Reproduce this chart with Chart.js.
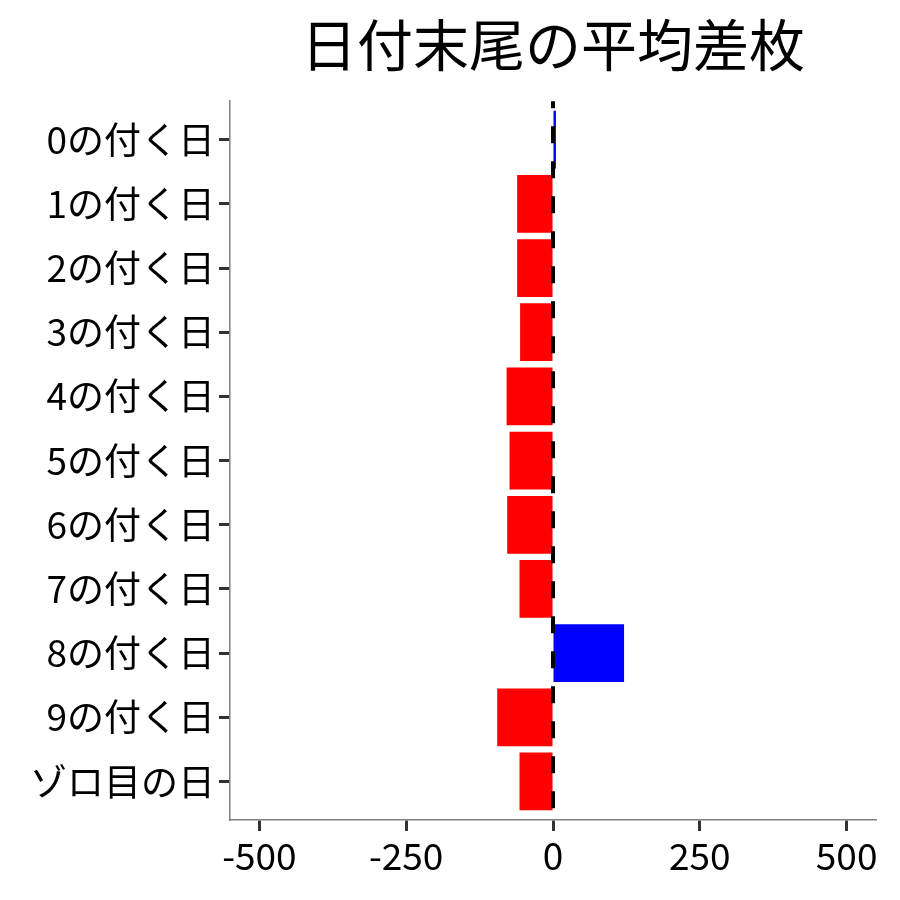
<!DOCTYPE html>
<html>
<head>
<meta charset="utf-8">
<script src="https://cdn.jsdelivr.net/npm/chart.js@4.4.0/dist/chart.umd.min.js"></script>
<style>
  html, body { margin: 0; padding: 0; background: #fff; }
</style>
</head>
<body>
<canvas id="chart" width="900" height="900"></canvas>
<script>
const categories = ["0の付く日", "1の付く日", "2の付く日", "3の付く日", "4の付く日", "5の付く日",
                    "6の付く日", "7の付く日", "8の付く日", "9の付く日", "ゾロ目の日"];
const values = [5, -61, -61, -56, -79, -74, -78, -57, 121, -95, -57];
const xTicks = [-500, -250, 0, 250, 500];

const FONT = "'Noto Sans CJK JP', 'Noto Sans', sans-serif";

// dashed reference line at x = 0, drawn over the bars
const zeroLine = {
    id: "zeroLine",
    afterDatasetsDraw(chart) {
        const { ctx, chartArea, scales } = chart;
        const x = scales.x.getPixelForValue(0);
        ctx.save();
        ctx.strokeStyle = "#000";
        ctx.lineWidth = 4;
        ctx.setLineDash([17, 18]);
        ctx.lineDashOffset = 10;
        ctx.beginPath();
        ctx.moveTo(x, chartArea.top);
        ctx.lineTo(x, chartArea.bottom);
        ctx.stroke();
        ctx.restore();
    }
};

new Chart(document.getElementById("chart"), {
    type: "bar",
    data: {
        datasets: [{
            data: values.map((v, i) => ({ x: v, y: i })),
            backgroundColor: values.map(v => v >= 0 ? "#0000ff" : "#ff0000"),
            borderWidth: 0,
            categoryPercentage: 1,
            barPercentage: 0.9,
        }]
    },
    options: {
        indexAxis: "y",
        responsive: false,
        animation: false,
        devicePixelRatio: 1,
        layout: { padding: { top: 0, right: 24, bottom: 0, left: 0 } },
        plugins: {
            legend: { display: false },
            tooltip: { enabled: false },
            title: {
                display: true,
                text: "日付末尾の平均差枚",
                fullSize: false,
                color: "#000",
                font: { family: FONT, size: 56, weight: "normal", lineHeight: 1.2 },
                padding: { top: 11, bottom: 23 },
            },
        },
        scales: {
            x: {
                type: "linear",
                min: -550,
                max: 550,
                afterBuildTicks: s => { s.ticks = xTicks.map(v => ({ value: v })); },
                afterFit: s => { s.height = 80; },
                grid: { drawOnChartArea: false, drawTicks: true, tickLength: 11, tickWidth: 3, tickColor: "#333" },
                border: { display: true, color: "#808080", width: 1.5 },
                ticks: {
                    color: "#000",
                    padding: 3,
                    maxRotation: 0,
                    font: { family: FONT, size: 37 },
                },
            },
            y: {
                type: "linear",
                reverse: true,
                offset: false,
                min: -0.6,
                max: categories.length - 0.4,
                afterBuildTicks: s => { s.ticks = categories.map((_, i) => ({ value: i })); },
                afterFit: s => { s.width = 230; },
                grid: { offset: false, drawOnChartArea: false, drawTicks: true, tickLength: 11, tickWidth: 3, tickColor: "#333" },
                border: { display: true, color: "#808080", width: 1.5 },
                ticks: {
                    color: "#000",
                    padding: 4,
                    autoSkip: false,
                    font: { family: FONT, size: 37 },
                    callback: v => categories[v],
                },
            },
        },
    },
    plugins: [zeroLine],
});
</script>
</body>
</html>
